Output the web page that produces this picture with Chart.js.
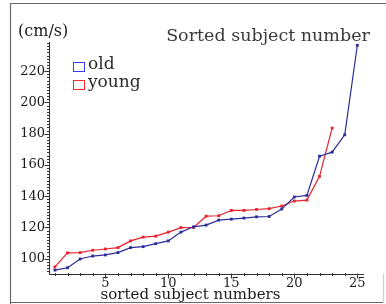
<!DOCTYPE html>
<html>
<head>
<meta charset="utf-8">
<script src="https://cdn.jsdelivr.net/npm/chart.js@4.4.1/dist/chart.umd.min.js"></script>
<style>
  html, body { margin: 0; padding: 0; background: #fff; }
  #wrap { width: 386px; height: 304px; position: relative; }
</style>
</head>
<body>
<div id="wrap"><canvas id="c" width="386" height="304"></canvas></div>
<script>
// ---- data ----
const subjects = [1,2,3,4,5,6,7,8,9,10,11,12,13,14,15,16,17,18,19,20,21,22,23,24,25];
const oldValues = [92.7,94.2,99.8,101.7,102.4,103.9,107.1,107.7,109.6,111.4,117.0,120.4,121.5,124.7,125.3,126.0,126.8,127.0,131.8,139.5,140.5,165.6,168.2,179.3,236.6];
const youngValues = [94.7,103.7,103.9,105.4,106.2,107.1,111.4,113.8,114.4,117.0,119.9,120.0,127.2,127.5,130.9,130.9,131.5,132.0,133.7,136.9,137.5,152.7,183.6];
const xTickValues = [5,10,15,20,25];
const yTickValues = [100,120,140,160,180,200,220];
const seriesLabels = ['old','young'];

const FONT = '"DejaVu Serif", serif';
const lineColors = ['#2d2d9a', '#e8232f'];
const legendColors = ['#3b3bff', '#ff2a2a'];

function pts(vals) { return vals.map((v, i) => ({ x: subjects[i], y: v })); }

const decor = {
  id: 'decor',
  afterDraw(chart) {
    const ctx = chart.ctx;
    const xs = chart.scales.x, ys = chart.scales.y;
    ctx.save();
    // frame
    ctx.strokeStyle = '#6a6a6a';
    ctx.lineWidth = 1.2;
    ctx.beginPath();
    ctx.moveTo(10.5, 304); ctx.lineTo(10.5, 3.5); ctx.lineTo(386, 3.5);
    ctx.moveTo(10, 302.5); ctx.lineTo(384, 302.5);
    ctx.stroke();
    ctx.strokeStyle = '#cfcfcf';
    ctx.beginPath();
    ctx.moveTo(383.5, 274); ctx.lineTo(383.5, 303);
    ctx.stroke();

    // minor/major ticks
    ctx.strokeStyle = '#333';
    ctx.lineWidth = 1;
    const ax = Math.round(xs.left) + 0.5 - 1;
    ctx.beginPath();
    for (let v = 92; v <= 238; v += 2) {
      const py = Math.round(ys.getPixelForValue(v)) + 0.5;
      if (v % 20 === 0) { ctx.moveTo(ax - 4, py); ctx.lineTo(ax + 1, py); }
      else { ctx.moveTo(ax - 1.5, py); ctx.lineTo(ax + 1.5, py); }
    }
    const ay = Math.round(ys.bottom) + 0.5;
    for (let v = 1; v <= 25; v++) {
      const px = Math.round(xs.getPixelForValue(v)) + 0.5;
      if (v % 5 === 0) { ctx.moveTo(px, ay - 1); ctx.lineTo(px, ay + 4); }
      else { ctx.moveTo(px, ay - 1.5); ctx.lineTo(px, ay + 1.5); }
    }
    ctx.stroke();

    // texts
    ctx.fillStyle = '#1a1a1a';
    ctx.textBaseline = 'alphabetic';
    ctx.font = '16px ' + FONT;
    ctx.textAlign = 'left';
    ctx.fillText('(cm/s)', 18, 36);
    ctx.fillStyle = '#3a3a3a';
    ctx.font = '17.5px ' + FONT;
    ctx.textAlign = 'center';
    ctx.fillText('Sorted subject number', 268, 41);
    ctx.fillStyle = '#1a1a1a';
    ctx.font = '15px ' + FONT;
    ctx.fillText('sorted subject numbers', 190.5, 299);

    // legend
    ctx.textAlign = 'left';
    ctx.font = '17px ' + FONT;
    chart.data.datasets.forEach((ds, i) => {
      const by = 62 + i * 18;
      ctx.strokeStyle = legendColors[i];
      ctx.lineWidth = 1;
      ctx.strokeRect(73.5, by + 0.5, 11, 9);
      ctx.fillStyle = '#2a2a2a';
      ctx.fillText(ds.label, 88, by + 7);
    });
    ctx.restore();
  }
};

new Chart(document.getElementById('c'), {
  type: 'line',
  data: {
    datasets: [
      { label: seriesLabels[0], data: pts(oldValues), borderColor: lineColors[0], backgroundColor: lineColors[0],
        borderWidth: 1.2, pointStyle: 'rect', pointRadius: 2, pointBorderWidth: 0, tension: 0 },
      { label: seriesLabels[1], data: pts(youngValues), borderColor: lineColors[1], backgroundColor: lineColors[1],
        borderWidth: 1.2, pointStyle: 'rect', pointRadius: 2, pointBorderWidth: 0, tension: 0 }
    ]
  },
  options: {
    responsive: false,
    animation: false,
    devicePixelRatio: 1,
    layout: { padding: { top: 42, right: 23, left: 0, bottom: 0 } },
    plugins: { legend: { display: false }, tooltip: { enabled: false }, title: { display: false } },
    scales: {
      x: {
        type: 'linear', min: 0.53, max: 25.45,
        afterBuildTicks: s => { s.ticks = xTickValues.map(v => ({ value: v })); },
        afterFit: s => { s.height = 30; },
        grid: { display: false, drawTicks: false },
        border: { display: true, color: '#333', width: 1 },
        ticks: { font: { family: FONT, size: 13 }, color: '#1a1a1a', padding: 2, maxRotation: 0, autoSkip: false }
      },
      y: {
        type: 'linear', min: 90.2, max: 238.7,
        afterBuildTicks: s => { s.ticks = yTickValues.map(v => ({ value: v })); },
        afterFit: s => { s.width = 49; },
        grid: { display: false, drawTicks: false },
        border: { display: true, color: '#333', width: 1 },
        ticks: { font: { family: FONT, size: 13 }, color: '#1a1a1a', padding: 4, autoSkip: false }
      }
    }
  },
  plugins: [decor]
});
</script>
</body>
</html>
